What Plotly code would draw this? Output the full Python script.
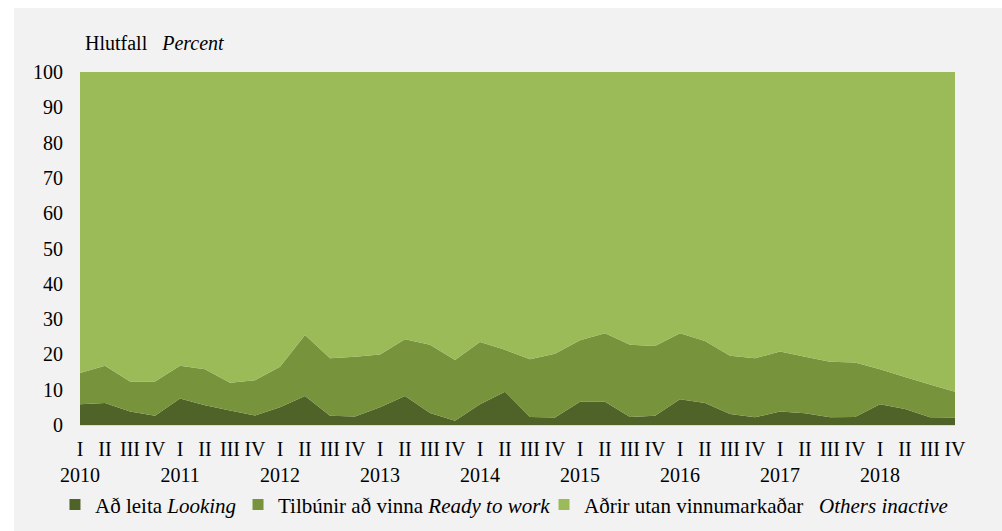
import plotly.graph_objects as go

quarters = ["I", "II", "III", "IV"]
years = ["2010", "2011", "2012", "2013", "2014", "2015", "2016", "2017", "2018"]

looking = [5.9, 6.2, 3.8, 2.6, 7.5, 5.6, 4.1, 2.7, 5.0, 8.2, 2.6, 2.4,
           5.0, 8.2, 3.4, 1.2, 5.9, 9.4, 2.3, 2.1, 6.6, 6.6, 2.3, 2.6,
           7.3, 6.2, 3.1, 2.2, 3.8, 3.3, 2.2, 2.3, 5.9, 4.5, 2.2, 2.1]
ready = [8.8, 10.6, 8.5, 9.7, 9.3, 10.2, 7.9, 10.0, 11.5, 17.3, 16.3, 16.9,
         15.0, 16.1, 19.3, 17.2, 17.6, 11.9, 16.3, 18.1, 17.4, 19.4, 20.4, 19.8,
         18.7, 17.6, 16.5, 16.7, 17.0, 16.0, 15.7, 15.4, 9.9, 9.1, 9.3, 7.3]
others = [85.3, 83.2, 87.7, 87.7, 83.2, 84.2, 88.0, 87.3, 83.5, 74.5, 81.1, 80.7,
          80.0, 75.7, 77.3, 81.6, 76.5, 78.7, 81.4, 79.8, 76.0, 74.0, 77.3, 77.6,
          74.0, 76.2, 80.4, 81.1, 79.2, 80.7, 82.1, 82.3, 84.2, 86.4, 88.5, 90.6]

series_names = [
    "Að leita <i>Looking</i>",
    "Tilbúnir að vinna <i>Ready to work</i>",
    "Aðrir utan vinnumarkaðar\u00a0\u00a0 <i>Others inactive</i>",
]
colors = ["#4F6228", "#77933C", "#9BBB59"]

x = list(range(len(years) * len(quarters)))
ticktext = []
for y in years:
    for qi, q in enumerate(quarters):
        ticktext.append(q + "<br>" + y if qi == 0 else q)

FONT = "'Times New Roman', 'Liberation Serif', Tinos, serif"

fig = go.Figure()
for vals, col in zip([looking, ready, others], colors):
    fig.add_trace(go.Scatter(
        x=x, y=vals, stackgroup="one", mode="none",
        fillcolor=col, line=dict(width=0), showlegend=False,
        hoverinfo="x+y",
    ))

legend_ids = ["legend", "legend2", "legend3"]
for name, col, lid in zip(series_names, colors, legend_ids):
    fig.add_trace(go.Scatter(
        x=[None], y=[None], mode="markers", name=name,
        marker=dict(symbol="square", size=11, color=col),
        legend=lid, showlegend=True,
    ))

leg_common = dict(orientation="h", bgcolor="rgba(0,0,0,0)",
                  font=dict(family=FONT, size=21, color="#000000"),
                  yanchor="middle", xanchor="left", y=-0.2265,
                  itemwidth=30, borderwidth=0)

fig.update_layout(
    width=1002, height=531,
    margin=dict(l=80, r=47, t=72, b=106, autoexpand=False),
    paper_bgcolor="#FFFFFF",
    plot_bgcolor="#F2F2F2",
    font=dict(family=FONT, size=20, color="#000000"),
    legend=dict(x=-0.0286, **leg_common),
    legend2=dict(x=0.1806, **leg_common),
    legend3=dict(x=0.5303, **leg_common),
    xaxis=dict(
        range=[0, len(x) - 1], tickmode="array", tickvals=x, ticktext=ticktext,
        showgrid=False, zeroline=False, showline=True, linecolor="#D9D9D9",
        linewidth=1, ticks="", ticklabelstandoff=6, tickangle=0,
        tickfont=dict(family=FONT, size=20, color="#000000"),
    ),
    yaxis=dict(
        range=[0, 100], dtick=10, tick0=0, showgrid=False, zeroline=False,
        showline=False, ticks="", ticklabelstandoff=16,
        tickfont=dict(family=FONT, size=20, color="#000000"),
    ),
    shapes=[dict(type="rect", xref="paper", yref="paper",
                 x0=-0.0754, x1=1.2, y0=-0.6, y1=1.1813,
                 fillcolor="#F2F2F2", line=dict(width=0), layer="below")],
    annotations=[dict(
        text="Hlutfall\u00a0\u00a0 <i>Percent</i>", xref="paper", yref="paper",
        x=0, y=1, xanchor="left", yanchor="middle", xshift=3, yshift=29,
        showarrow=False, font=dict(family=FONT, size=20, color="#000000"),
    )],
)

fig.write_html("out.html", config={"displayModeBar": False},
               post_script="document.body.style.margin='0';")
